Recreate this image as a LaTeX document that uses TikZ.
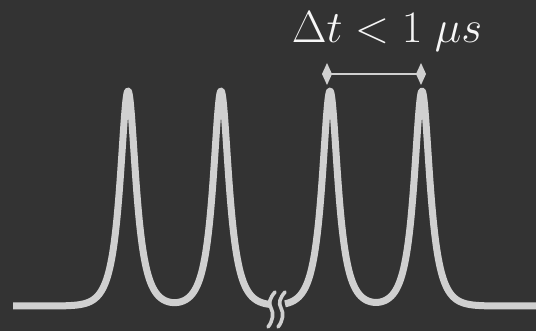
\RequirePackage{fix-cm}
\documentclass[tikz,border=0pt]{standalone}
\usetikzlibrary{arrows.meta}
\definecolor{bg}{HTML}{333333}
\definecolor{curve}{HTML}{D0D0D0}
\definecolor{txt}{HTML}{F6F6F6}
\tikzset{
  declare function={pk(\u)=exp(-min(\u*\u,100)/12.5)/(\u*\u+1);
                    sig(\x)=306-215*(pk((\x-128)/10)+pk((\x-221)/10)+pk((\x-330)/10)+pk((\x-422)/10));},
  sigline/.style={curve, line width=7pt, line join=round},
  squig/.style={curve, line width=3.6pt, line cap=round},
  dimline/.style={curve, line width=1.8pt, {Diamond[length=10pt,width=22pt]}-{Diamond[length=10pt,width=22pt]}}
}
\begin{document}
\begin{tikzpicture}[x=1pt,y=-1pt]
\fill[bg] (0,0) rectangle (536,331);
\useasboundingbox (0,0) rectangle (536,331);
% signal, left part
\draw[sigline] plot[domain=13:271, samples=420, smooth] (\x,{sig(\x)});
% signal, right part
\draw[sigline] plot[domain=285:536, samples=420, smooth] (\x,{sig(\x)});
% break marks
\draw[squig] (275,292) .. controls (270,298) and (268,303) .. (271,308) .. controls (274,313) and (273,321) .. (268,327);
\draw[squig] (285,292) .. controls (280,298) and (278,303) .. (281,308) .. controls (284,313) and (283,321) .. (278,327);
% dimension
\coordinate (dl) at (322,74);
\coordinate (dr) at (426,74);
\draw[dimline] (dl) -- (dr);
\node[txt, anchor=base, inner sep=0pt, font=\fontsize{45}{54}\selectfont] (lbl) at (387,43) {$\Delta t < 1\;\mu s$};
\end{tikzpicture}
\end{document}
